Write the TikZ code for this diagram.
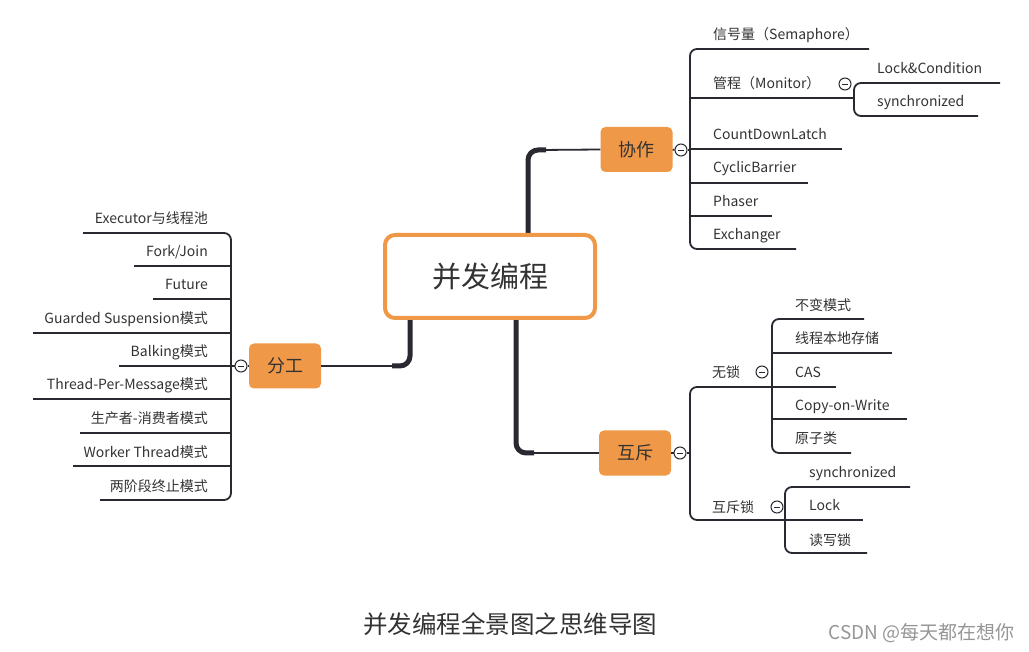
\documentclass[tikz,border=0pt]{standalone}
\usepackage{fontspec}
\setmainfont{Noto Sans CJK SC}
\definecolor{orng}{RGB}{239,152,72}
\definecolor{lc}{RGB}{42,40,48}
\definecolor{txt}{RGB}{51,51,51}
\definecolor{wmc}{RGB}{150,150,150}
\tikzset{
  lbl/.style={font=\fontsize{14}{16}\selectfont, text=txt, inner sep=0pt, anchor=base west},
  lblr/.style={lbl, anchor=base east},
  ln/.style={draw=lc, line width=1.8pt},
  brk/.style={ln, rounded corners=7pt},
  thk/.style={draw=lc, line width=5pt, rounded corners=10pt},
  orbox/.style={fill=orng, rounded corners=5pt, minimum width=72pt, minimum height=45pt,
    inner sep=0pt, font=\fontsize{18}{20}\selectfont, text=txt},
  rootbox/.style={draw=orng, line width=4pt, fill=white, rounded corners=10pt,
    minimum width=210pt, minimum height=83pt, inner sep=0pt,
    font=\fontsize{29}{32}\selectfont, text=txt},
  tog/.style={circle, draw=lc, fill=white, line width=1pt, minimum size=12pt, inner sep=0pt,
    path picture={\draw[lc, line width=0.8pt] ([xshift=-3pt]path picture bounding box.center) -- ([xshift=3pt]path picture bounding box.center);}}
}
\begin{document}
\begin{tikzpicture}[x=1pt,y=-1pt]
\useasboundingbox[fill=white] (0,0) rectangle (1029,652);

% ---------- central connectors ----------
\coordinate (rt) at (528,235);
\coordinate (rtc) at (528,150);
\coordinate (rb) at (516,318);
\coordinate (rbc) at (516,453);
\coordinate (rl) at (410,318);
\coordinate (rlc) at (410,366);

\node[orbox] (xz) at (636.5,149.5) {协作};
\node[orbox] (hc) at (635,453) {互斥};
\node[orbox] (fg) at (285,366) {分工};

\draw[thk] (rt) -- (rtc) -- ++(18,0);
\draw[ln] ([xshift=12pt]rtc) -- (xz.west);
\draw[thk] (rb) -- (rbc) -- ++(18,0);
\draw[ln] ([xshift=12pt]rbc) -- (hc.west);
\draw[thk] (rl) -- (rlc) -- ++(-18,0);
\draw[ln] ([xshift=-12pt]rlc) -- (fg.east);

\node[rootbox] (root) at (490,276.5) {并发编程};

% ---------- 协作 branch ----------
\coordinate (bxz) at (690,150);
\node[tog] (txz) at (681,150) {};
\draw[ln] (xz.east) -- (txz.west);
\draw[ln] (txz.east) -- (bxz);

\node[lbl] (s1) at (713,40) {信号量（Semaphore）};
\node[lbl] (s2) at (713,89) {管程（Monitor）};
\node[lbl] (s3) at (713,140) {CountDownLatch};
\node[lbl] (s4) at (713,173) {CyclicBarrier};
\node[lbl] (s5) at (713,207) {Phaser};
\node[lbl] (s6) at (713,240) {Exchanger};
\coordinate (s1e) at (869,49);
\coordinate (s2e) at (854,98);
\coordinate (s3e) at (842,149);
\coordinate (s4e) at (808,183);
\coordinate (s5e) at (772,216);
\coordinate (s6e) at (796,249);
\draw[brk] (s1e) -- (s1e -| bxz) -- (s6e -| bxz) -- (s6e);
\draw[ln] (s2e -| bxz) -- (s2e);
\draw[ln] (s3e -| bxz) -- (s3e);
\draw[ln] (s4e -| bxz) -- (s4e);
\draw[ln] (s5e -| bxz) -- (s5e);

% monitor sub-branch
\node[tog] (tmo) at (845,84) {};
\node[lbl] (m1) at (877,74) {Lock\&Condition};
\node[lbl] (m2) at (877,107) {synchronized};
\coordinate (m1e) at (1000,83);
\coordinate (m2e) at (978,116);
\draw[brk] (m1e) -- (m1e -| s2e) -- (m2e -| s2e) -- (m2e);

% ---------- 互斥 branch ----------
\coordinate (bhc) at (690,453);
\node[tog] (thc) at (680,453) {};
\draw[ln] (hc.east) -- (thc.west);
\draw[ln] (thc.east) -- (bhc);

\node[lbl] (w0) at (712,378) {无锁};
\node[lbl] (l0) at (712,512) {互斥锁};
\coordinate (w0e) at (772,387);
\coordinate (l0e) at (785,520);
\draw[brk] (w0e) -- (w0e -| bhc) -- (l0e -| bhc) -- (l0e);
\node[tog] (tw0) at (762,372) {};
\node[tog] (tl0) at (777,507) {};

\node[lbl] (w1) at (795,311) {不变模式};
\node[lbl] (w2) at (795,344) {线程本地存储};
\node[lbl] (w3) at (795,378) {CAS};
\node[lbl] (w4) at (795,410) {Copy-on-Write};
\node[lbl] (w5) at (795,444) {原子类};
\coordinate (w1e) at (864,319);
\coordinate (w2e) at (892,353);
\coordinate (w3e) at (836,387);
\coordinate (w4e) at (907,419);
\coordinate (w5e) at (851,453);
\draw[brk] (w1e) -- (w1e -| w0e) -- (w5e -| w0e) -- (w5e);
\draw[ln] (w2e -| w0e) -- (w2e);
\draw[ln] (w3e -| w0e) -- (w3e);
\draw[ln] (w4e -| w0e) -- (w4e);

\node[lbl] (k1) at (809,477) {synchronized};
\node[lbl] (k2) at (809,511) {Lock};
\node[lbl] (k3) at (809,545) {读写锁};
\coordinate (k1e) at (910,487);
\coordinate (k2e) at (863,520);
\coordinate (k3e) at (867,553);
\draw[brk] (k1e) -- (k1e -| l0e) -- (k3e -| l0e) -- (k3e);
\draw[ln] (k2e -| l0e) -- (k2e);

% ---------- 分工 branch ----------
\coordinate (bfg) at (231,366);
\node[tog] (tfg) at (241,366) {};
\draw[ln] (fg.west) -- (tfg.east);
\draw[ln] (tfg.west) -- (bfg);

\node[lblr] (f1) at (208,224) {Executor与线程池};
\node[lblr] (f2) at (208,257) {Fork/Join};
\node[lblr] (f3) at (208,290) {Future};
\node[lblr] (f4) at (208,324) {Guarded Suspension模式};
\node[lblr] (f5) at (208,357) {Balking模式};
\node[lblr] (f6) at (208,390) {Thread-Per-Message模式};
\node[lblr] (f7) at (208,424) {生产者-消费者模式};
\node[lblr] (f8) at (208,457) {Worker Thread模式};
\node[lblr] (f9) at (208,491) {两阶段终止模式};
\coordinate (f1e) at (83,233);
\coordinate (f2e) at (134,266);
\coordinate (f3e) at (153,299);
\coordinate (f4e) at (33,333);
\coordinate (f5e) at (119,366);
\coordinate (f6e) at (33,399);
\coordinate (f7e) at (80,433);
\coordinate (f8e) at (73,466);
\coordinate (f9e) at (100,500);
\draw[brk] (f1e) -- (f1e -| bfg) -- (f9e -| bfg) -- (f9e);
\foreach \n in {f2e,f3e,f4e,f5e,f6e,f7e,f8e}{\draw[ln] (\n -| bfg) -- (\n);}

% ---------- caption ----------
\node[font=\fontsize{24.5}{26}\selectfont, text=txt, inner sep=0pt] (cap) at (510,624) {并发编程全景图之思维导图};
\node[font=\fontsize{19}{21}\selectfont, text=wmc, inner sep=0pt, anchor=east] (wm) at (1015,633) {CSDN @每天都在想你};
\end{tikzpicture}
\end{document}
